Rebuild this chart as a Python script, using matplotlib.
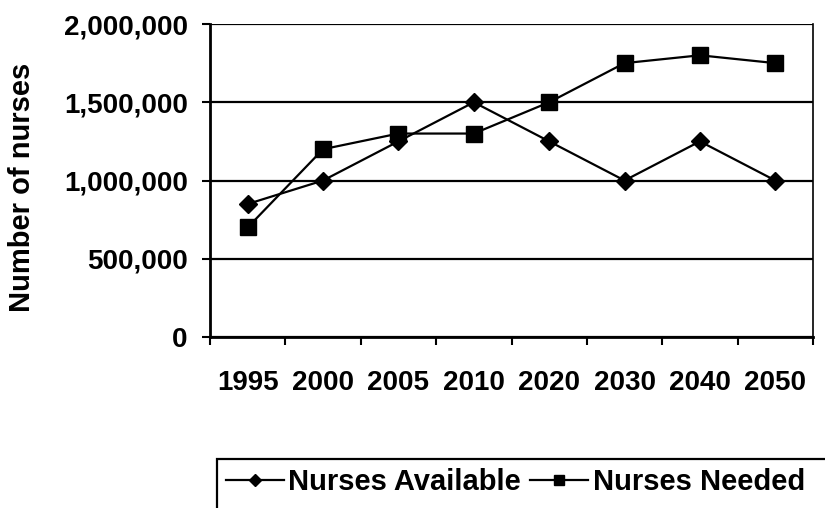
import matplotlib
matplotlib.use("Agg")
import matplotlib.pyplot as plt
from matplotlib.patches import Rectangle
from matplotlib.ticker import FuncFormatter

# --- data ---
years = ["1995", "2000", "2005", "2010", "2020", "2030", "2040", "2050"]
nurses_available = [850000, 1000000, 1250000, 1500000, 1250000, 1000000, 1250000, 1000000]
nurses_needed = [700000, 1200000, 1300000, 1300000, 1500000, 1750000, 1800000, 1750000]

plt.rcParams["font.family"] = ["Liberation Sans", "DejaVu Sans"]
plt.rcParams["font.weight"] = "bold"
FS = 20

fig = plt.figure(figsize=(8.25, 5.08), dpi=100)
ax = fig.add_axes([210/825, 1-337/508, (813-210)/825, (337-24)/508])

x = list(range(len(years)))
l1, = ax.plot(x, nurses_available, color="black", lw=1.6, marker="D", ms=9.5, label="Nurses Available")
l2, = ax.plot(x, nurses_needed, color="black", lw=1.6, marker="s", ms=11, label="Nurses Needed")

ax.set_xlim(-0.5, len(years) - 0.5)
ax.set_ylim(0, 2000000)
ax.set_yticks([0, 500000, 1000000, 1500000, 2000000])
ax.yaxis.set_major_formatter(FuncFormatter(lambda v, p: f"{int(v):,}"))

# category boundaries get the tick marks, centres get the labels
ax.set_xticks([i - 0.5 for i in range(len(years) + 1)])
ax.set_xticklabels([])
ax.set_xticks(x, minor=True)
ax.set_xticklabels(years, minor=True)
ax.tick_params(axis="x", which="minor", length=0, pad=24, labelsize=FS)
ax.tick_params(axis="x", which="major", length=6, width=1.5, direction="out")
ax.tick_params(axis="y", length=6, width=1.5, direction="out", labelsize=FS, pad=10)

ax.grid(axis="y", color="black", lw=1.6)
ax.set_axisbelow(True)
for s in ["left", "bottom"]:
    ax.spines[s].set_linewidth(2)
ax.spines["top"].set_visible(False)
ax.spines["right"].set_linewidth(1.2)

fig.text(22/825, 1-187/508, "Number of nurses", rotation=90, ha="center", va="center",
         fontsize=21, fontweight="bold")

# legend box runs off the bottom/right edge of the picture
fig.patches.append(Rectangle((217/825, -0.05), 0.8, 1.05 - 459/508, transform=fig.transFigure,
                             fill=False, edgecolor="black", lw=1.6))
leg = fig.legend(handles=[l1, l2], loc="upper left", bbox_to_anchor=(217/825, 1-459/508),
                 ncol=2, frameon=False, fontsize=21, handlelength=2.0,
                 columnspacing=0.3, handletextpad=0.15, borderpad=0.3,
                 borderaxespad=0, markerscale=0.65)

fig.savefig("out.png", dpi=100)
